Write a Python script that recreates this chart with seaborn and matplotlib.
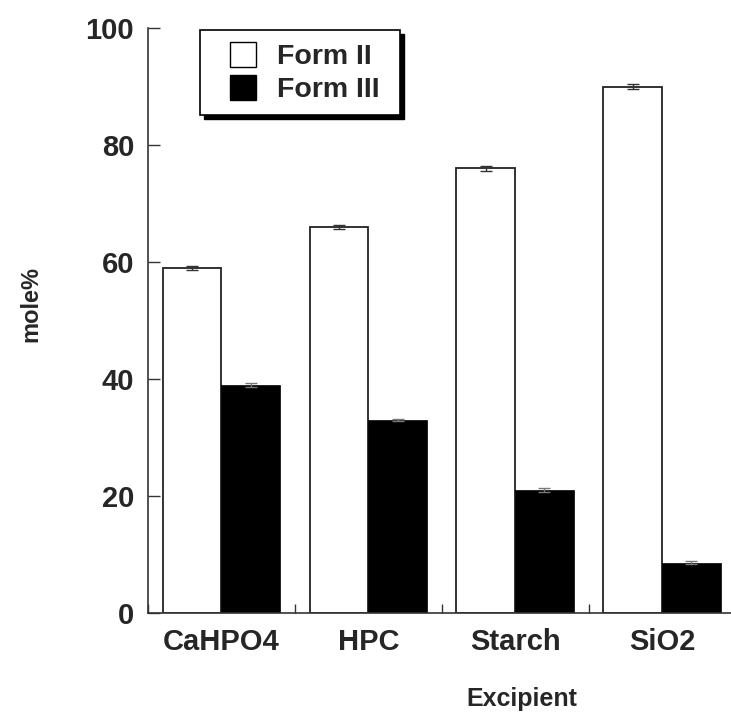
import matplotlib
matplotlib.use("Agg")
import matplotlib.pyplot as plt
import seaborn as sns
import pandas as pd
import numpy as np
from matplotlib.patches import Rectangle
from matplotlib.ticker import FixedLocator

# Polymorph content by excipient
excipients = ["CaHPO4", "HPC", "Starch", "SiO2"]
forms = ["Form II", "Form III"]
form2_mole = [59.0, 66.0, 76.0, 90.0]
form3_mole = [39.0, 33.0, 21.0, 8.6]
form2_err = [0.4, 0.4, 0.4, 0.5]
form3_err = [0.3, 0.2, 0.4, 0.3]
yticks = [0, 20, 40, 60, 80, 100]

df = pd.DataFrame({
    "Excipient": excipients * 2,
    "Form": [forms[0]] * 4 + [forms[1]] * 4,
    "mole": form2_mole + form3_mole,
    "err": form2_err + form3_err,
})

sns.set_theme(style="white")
plt.rcParams["font.family"] = ["Liberation Sans", "DejaVu Sans"]
plt.rcParams["font.weight"] = "bold"

W, H = 731, 713
fig = plt.figure(figsize=(W / 100, H / 100), dpi=100)
ax = fig.add_axes([148 / W, 1 - 613 / H, (W - 148) / W, (613 - 28) / H])

sns.barplot(data=df, x="Excipient", y="mole", hue="Form", order=excipients,
            hue_order=forms, palette={"Form II": "white", "Form III": "black"},
            errorbar=None, width=0.8, ax=ax, legend=True)

for bar in ax.patches:
    if bar.get_facecolor()[0] > 0.5:
        bar.set_edgecolor("#222222")
        bar.set_linewidth(1.3)
    else:
        bar.set_edgecolor("black")
        bar.set_linewidth(0.5)

# error bars at the centre of each bar
for i, form in enumerate(forms):
    sub = df[df["Form"] == form].set_index("Excipient").loc[excipients]
    xs = np.arange(len(excipients)) + (-0.2 if i == 0 else 0.2)
    ax.errorbar(xs, sub["mole"], yerr=sub["err"], fmt="none",
                ecolor="#333333" if i == 0 else "#777777",
                elinewidth=1.0, capsize=4, capthick=1.0, zorder=5)

ax.set_xlim(-0.5, 3.47)
ax.set_ylim(0, 100)
ax.set_yticks(yticks)
ax.set_yticklabels([str(t) for t in yticks], fontsize=21, fontweight="bold")
ax.set_xticks(range(len(excipients)))
ax.set_xticklabels(excipients, fontsize=21, fontweight="bold")
ax.xaxis.set_minor_locator(FixedLocator([-0.5, 0.5, 1.5, 2.5]))
ax.tick_params(axis="x", which="major", length=0, pad=11)
ax.tick_params(axis="x", which="minor", direction="in", length=6.5,
               width=1, color="#333333", bottom=True)
ax.tick_params(axis="y", which="major", direction="in", length=8.6,
               width=1, color="#333333", left=True, pad=10)

for side in ["top", "right"]:
    ax.spines[side].set_visible(False)
for side in ["left", "bottom"]:
    ax.spines[side].set_color("#333333")
    ax.spines[side].set_linewidth(1.2)

ax.set_ylabel("mole%", fontsize=17, fontweight="bold")
ax.yaxis.set_label_coords(-0.182, 0.528)
ax.set_xlabel("Excipient", fontsize=18, fontweight="bold")
ax.xaxis.set_label_coords(0.6415, -0.127)

# legend box with a solid drop shadow
box_x, box_y, box_w, box_h = 52 / 583, (613 - 115) / 585, 200 / 583, 85 / 585
sh_dx, sh_dy = 4 / 583, 4 / 585
ax.add_patch(Rectangle((box_x + sh_dx, box_y - sh_dy), box_w, box_h,
                       transform=ax.transAxes, facecolor="black",
                       edgecolor="black", zorder=9, clip_on=False))
ax.add_patch(Rectangle((box_x, box_y), box_w, box_h, transform=ax.transAxes,
                       facecolor="white", edgecolor="black", linewidth=1.2,
                       zorder=10, clip_on=False))

leg = ax.legend(loc="upper left", bbox_to_anchor=(82 / 583, (613 - 42) / 585),
                frameon=False, prop={"weight": "bold", "size": 20.5},
                handlelength=0.92, handleheight=0.95, handletextpad=0.72,
                borderpad=0, borderaxespad=0, labelspacing=0.18)
leg.set_zorder(11)
for h in leg.legend_handles:
    h.set_edgecolor("black")
    h.set_linewidth(1.0)
leg.set_title(None)

fig.savefig("out.png", dpi=100)
